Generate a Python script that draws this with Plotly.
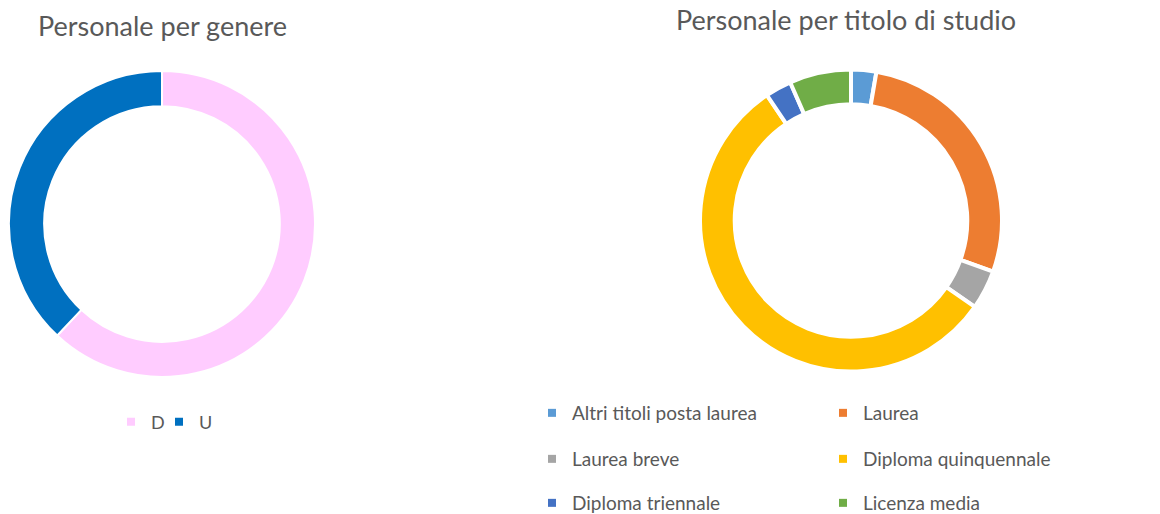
import plotly.graph_objects as go

W, H = 1160, 514

# Data
genere_labels = ["D", "U"]
genere_values = [62, 38]
genere_colors = ["#FFCCFF", "#0070C0"]

studio_labels = ["Altri titoli posta laurea", "Laurea", "Laurea breve",
                 "Diploma quinquennale", "Diploma triennale", "Licenza media"]
studio_values = [2.7, 27.8, 4.2, 55.9, 2.8, 6.6]
studio_colors = ["#5B9BD5", "#ED7D31", "#A5A5A5", "#FFC000", "#4472C4", "#70AD47"]

FONT = "Lato"
GREY = "#595959"


def px_x(x):
    return x / W


def px_y(y):
    return 1 - y / H


def domain(cx, cy, r):
    return dict(x=[px_x(cx - r), px_x(cx + r)], y=[px_y(cy + r), px_y(cy - r)])


fig = go.Figure()

fig.add_trace(go.Pie(
    labels=genere_labels, values=genere_values,
    marker=dict(colors=genere_colors, line=dict(color="white", width=2)),
    hole=0.77, sort=False, direction="clockwise", rotation=0,
    textinfo="none", domain=domain(162, 224, 153), showlegend=False,
))

fig.add_trace(go.Pie(
    labels=studio_labels, values=studio_values,
    marker=dict(colors=studio_colors, line=dict(color="white", width=4)),
    hole=0.77, sort=False, direction="clockwise", rotation=0,
    textinfo="none", domain=domain(851, 220.5, 151), showlegend=False,
))

# Legend keys: one small square per category, grouped into legend boxes
# (D and U each get their own box; the second chart uses one box per row)
genere_legends = ["legend", "legend2"]
studio_legends = ["legend3", "legend3", "legend4", "legend4", "legend5", "legend5"]

for lab, col, lg in zip(genere_labels, genere_colors, genere_legends):
    fig.add_trace(go.Scatter(x=[None], y=[None], mode="markers", name=lab,
                             marker=dict(symbol="square", size=8, color=col),
                             legend=lg, hoverinfo="skip"))

for lab, col, lg in zip(studio_labels, studio_colors, studio_legends):
    fig.add_trace(go.Scatter(x=[None], y=[None], mode="markers", name=lab,
                             marker=dict(symbol="square", size=8, color=col),
                             legend=lg, hoverinfo="skip"))


def legend_box(text_x, text_y, size, entrywidth=None):
    box = dict(orientation="h", font=dict(family=FONT, size=size, color=GREY),
               bgcolor="rgba(0,0,0,0)", xanchor="left", yanchor="middle",
               itemsizing="trace", x=px_x(text_x - 40), y=px_y(text_y))
    if entrywidth:
        box.update(entrywidth=entrywidth, entrywidthmode="pixels")
    return box


fig.update_layout(
    width=W, height=H,
    margin=dict(l=0, r=0, t=0, b=0, autoexpand=False),
    paper_bgcolor="white", plot_bgcolor="white",
    xaxis=dict(visible=False), yaxis=dict(visible=False),
    legend=legend_box(151, 422, 18),
    legend2=legend_box(199, 422, 18),
    legend3=legend_box(572, 413, 19, 246),
    legend4=legend_box(572, 459, 19, 246),
    legend5=legend_box(572, 503, 19, 246),
    annotations=[
        dict(text="Personale per genere", x=px_x(162), y=px_y(25),
             xref="paper", yref="paper", xanchor="center", yanchor="middle",
             showarrow=False, font=dict(family=FONT, size=27, color=GREY)),
        dict(text="Personale per titolo di studio", x=px_x(846), y=px_y(20),
             xref="paper", yref="paper", xanchor="center", yanchor="middle",
             showarrow=False, font=dict(family=FONT, size=27, color=GREY)),
    ],
)

fig.write_html("out.html")
